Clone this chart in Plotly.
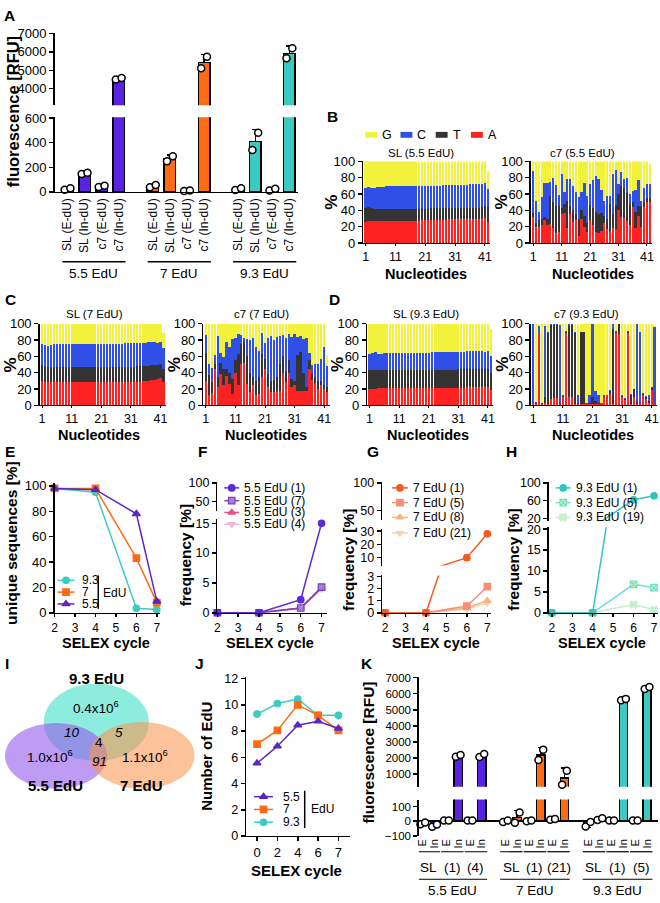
import numpy as np
import plotly.graph_objects as go

W, H = 660, 903
FONT = "Liberation Sans, Arial, Helvetica, sans-serif"
BK = "#000000"

# ======================= DATA =======================
# Panel A
A_groups = ["5.5 EdU", "7 EdU", "9.3 EdU"]
A_cats = ["SL (E-dU)", "SL (In-dU)", "c7 (E-dU)", "c7 (In-dU)"]
A_pts_55 = [[18, 30], [145, 155], [40, 50], [4500, 4580]]
A_pts_7 = [[38, 55], [250, 290], [8, 12], [5110, 5730]]
A_pts_93 = [[15, 30], [340, 480], [12, 25], [5650, 6200]]
group_colors = ["#5B22E3", "#FF6A12", "#3CCBC2"]

# Panels B-D: cumulative percentages (A, A+T, A+T+C, total) per nucleotide position
nt_pos = list(range(1, 43))

SL55_A = [26, 27, 27, 27, 27, 27, 27, 27, 27, 27,
          27, 27, 27, 27, 27, 27, 27, 27, 27, 28,
          28, 28, 28, 28, 28, 28, 28, 28, 29, 29,
          29, 29, 29, 29, 29, 29, 29, 29, 29, 30,
          31, 26]
SL55_AT = [43, 44, 43, 42, 42, 42, 42, 42, 42, 42,
           42, 42, 42, 42, 42, 42, 42, 42, 42, 42,
           42, 42, 43, 43, 43, 43, 43, 43, 43, 43,
           43, 43, 43, 43, 43, 43, 43, 43, 43, 44,
           45, 44]
SL55_ATC = [67, 69, 68, 68, 69, 69, 69, 70, 70, 70,
            70, 70, 70, 70, 70, 70, 70, 70, 70, 70,
            70, 70, 70, 70, 70, 70, 71, 71, 71, 71,
            71, 71, 71, 71, 71, 72, 72, 72, 72, 72,
            73, 66]
SL55_TOT = [100, 100, 100, 100, 100, 100, 100, 100, 100, 100,
            100, 100, 100, 100, 100, 100, 100, 100, 100, 100,
            100, 100, 100, 100, 100, 100, 100, 100, 100, 100,
            100, 100, 100, 100, 100, 100, 100, 100, 100, 100,
            100, 88]

C755_A = [32, 20, 20, 22, 28, 22, 23, 18, 12, 14,
          35, 37, 18, 36, 26, 28, 8, 29, 20, 13,
          28, 22, 14, 12, 15, 24, 17, 15, 18, 17,
          40, 32, 31, 27, 22, 44, 18, 33, 20, 44,
          50, 50]
C755_AT = [37, 25, 28, 30, 32, 30, 57, 50, 45, 45,
           43, 48, 52, 45, 40, 35, 30, 40, 33, 25,
           47, 43, 38, 35, 37, 33, 30, 48, 35, 46,
           60, 70, 68, 61, 48, 50, 38, 45, 45, 50,
           55, 55]
C755_ATC = [88, 52, 38, 56, 74, 73, 75, 80, 71, 59,
            85, 62, 78, 79, 70, 63, 56, 62, 74, 58,
            72, 77, 82, 79, 65, 52, 58, 57, 84, 90,
            72, 87, 79, 80, 60, 64, 65, 77, 52, 68,
            72, 72]
C755_TOT = [100, 100, 100, 100, 100, 100, 100, 100, 100, 100,
            100, 100, 100, 100, 100, 100, 100, 100, 100, 100,
            100, 100, 100, 100, 100, 100, 100, 100, 100, 100,
            100, 100, 100, 100, 100, 100, 100, 100, 100, 100,
            100, 97]

SL7_A = [30, 28, 29, 29, 29, 29, 29, 29, 29, 29,
         29, 29, 28, 28, 28, 28, 28, 28, 28, 28,
         28, 28, 28, 29, 29, 29, 29, 29, 29, 29,
         29, 29, 29, 29, 30, 30, 30, 31, 31, 32,
         33, 28]
SL7_AT = [49, 48, 47, 47, 47, 47, 47, 47, 47, 47,
          47, 47, 47, 47, 47, 47, 47, 47, 47, 47,
          47, 47, 47, 47, 47, 47, 47, 47, 47, 47,
          47, 47, 48, 48, 48, 48, 48, 49, 49, 49,
          50, 45]
SL7_ATC = [75, 74, 73, 74, 75, 75, 75, 75, 75, 75,
           75, 75, 75, 75, 75, 75, 75, 75, 75, 75,
           75, 75, 75, 75, 75, 75, 75, 75, 76, 76,
           76, 76, 76, 76, 76, 76, 77, 77, 77, 76,
           77, 70]
SL7_TOT = [100, 100, 100, 100, 100, 100, 100, 100, 100, 100,
           100, 100, 100, 100, 100, 100, 100, 100, 100, 100,
           100, 100, 100, 100, 100, 100, 100, 100, 100, 100,
           100, 100, 100, 100, 100, 100, 100, 100, 100, 100,
           100, 88]

C77_A = [30, 12, 15, 44, 23, 38, 25, 36, 26, 14,
         40, 25, 50, 52, 26, 16, 25, 12, 14, 35,
         45, 22, 16, 16, 17, 18, 40, 28, 40, 23,
         25, 17, 18, 18, 17, 45, 31, 27, 20, 25,
         20, 16]
C77_AT = [64, 37, 28, 50, 35, 52, 45, 45, 40, 32,
          55, 63, 75, 78, 60, 40, 35, 30, 35, 63,
          57, 38, 30, 31, 35, 50, 60, 42, 55, 32,
          30, 62, 65, 40, 23, 55, 38, 35, 30, 30,
          25, 22]
C77_ATC = [86, 51, 46, 62, 85, 64, 59, 77, 72, 81,
           82, 87, 86, 83, 81, 80, 82, 71, 67, 88,
           76, 83, 85, 80, 84, 85, 86, 82, 87, 84,
           87, 84, 85, 81, 82, 64, 49, 50, 51, 57,
           72, 48]
C77_TOT = [100, 100, 100, 100, 100, 100, 100, 100, 100, 100,
           100, 100, 100, 100, 100, 100, 100, 100, 100, 100,
           100, 100, 100, 100, 100, 100, 100, 100, 100, 100,
           100, 100, 100, 100, 100, 100, 100, 100, 100, 100,
           100, 62]

SL93_A = [20, 20, 20, 21, 21, 21, 21, 21, 21, 21,
          21, 21, 21, 21, 21, 21, 21, 21, 21, 21,
          21, 21, 21, 21, 21, 21, 21, 21, 21, 21,
          21, 21, 21, 22, 22, 22, 22, 22, 22, 22,
          22, 19]
SL93_AT = [43, 43, 43, 43, 43, 43, 43, 43, 43, 43,
           43, 43, 43, 43, 43, 43, 43, 43, 43, 43,
           43, 43, 43, 43, 43, 43, 43, 43, 43, 43,
           44, 44, 44, 44, 45, 45, 45, 45, 45, 45,
           45, 40]
SL93_ATC = [63, 64, 65, 63, 63, 64, 64, 64, 64, 64,
            64, 64, 64, 64, 64, 64, 64, 64, 64, 64,
            64, 65, 65, 65, 65, 65, 65, 65, 65, 65,
            65, 65, 65, 66, 66, 66, 66, 66, 66, 65,
            66, 60]
SL93_TOT = [100, 100, 100, 100, 100, 100, 100, 100, 100, 100,
            100, 100, 100, 100, 100, 100, 100, 100, 100, 100,
            100, 100, 100, 100, 100, 100, 100, 100, 100, 100,
            100, 100, 100, 100, 100, 100, 100, 100, 100, 100,
            100, 93]

C793_A = [1, 2, 88, 2, 3, 2, 8, 9, 9, 2,
          10, 88, 10, 10, 2, 2, 2, 2, 1, 2,
          2, 2, 1, 1, 10, 12, 14, 2, 88, 87,
          10, 7, 88, 2, 10, 2, 1, 13, 8, 3,
          19, 1]
C793_AT = [2, 3, 89, 3, 10, 88, 98, 98, 98, 3,
           11, 90, 97, 98, 88, 3, 90, 90, 2, 3,
           10, 5, 3, 2, 11, 13, 18, 93, 90, 99,
           11, 8, 90, 13, 20, 4, 2, 14, 10, 5,
           21, 2]
C793_ATC = [99, 4, 97, 3, 97, 90, 99, 99, 99, 98,
            12, 91, 99, 99, 90, 13, 90, 90, 3, 12,
            99, 18, 12, 3, 12, 13, 19, 100, 91, 99,
            12, 9, 91, 14, 20, 99, 90, 15, 11, 12,
            22, 96]
C793_TOT = [100, 100, 100, 100, 100, 100, 100, 100, 100, 100,
            100, 100, 100, 100, 100, 100, 100, 100, 100, 100,
            100, 100, 100, 100, 100, 100, 100, 100, 100, 100,
            100, 100, 100, 100, 100, 100, 100, 100, 100, 100,
            100, 97]

base_names = ["A", "T", "C", "G"]
base_colors = ["#FF2222", "#343434", "#2F4FE6", "#F2F23C"]

# Panels E-H
cycles = [2, 4, 6, 7]
uniq_93 = [98, 95, 3.5, 2.5]
uniq_7 = [98, 98, 43, 8]
uniq_55 = [98, 97, 78, 9]

f55_1 = [0, 0, 2.2, 15]
f55_7 = [0, 0, 0.8, 4.3]
f55_3 = [0, 0, 0.8, 4.1]
f55_4 = [0, 0, 0.7, 4.0]

g7_1 = [0, 0, 10, 28]
g7_5 = [0, 0, 0.55, 2.15]
g7_8 = [0, 0, 0.4, 1.0]
g7_21 = [0, 0, 0.3, 0.8]

h93_1 = [0, 0, 62, 71]
h93_5 = [0, 0, 6.8, 6.0]
h93_19 = [0, 0, 2.0, 0.7]

# Panel I (Venn)
venn_sets = ["9.3 EdU", "5.5 EdU", "7 EdU"]
venn_unique = ["0.4x10<sup>6</sup>", "1.0x10<sup>6</sup>", "1.1x10<sup>6</sup>"]
venn_93_55 = "10"
venn_93_7 = "5"
venn_55_7 = "91"
venn_all = "4"

# Panel J
J_cycles = ["0", "2", "4", "6", "7"]
j55 = [5.55, 6.85, 8.45, 8.75, 8.2]
j7 = [7.0, 8.05, 10.0, 9.2, 8.05]
j93 = [9.3, 10.1, 10.45, 9.2, 9.2]

# Panel K
K_groups = ["5.5 EdU", "7 EdU", "9.3 EdU"]
K_sub = [["SL", "(1)", "(4)"], ["SL", "(1)", "(21)"], ["SL", "(1)", "(5)"]]
K_cond = ["E", "In"]
K_pts_55 = [[-20, -8], [-38, -22], [5, 5], [2080, 2180], [5, 5], [2060, 2250]]
K_pts_7 = [[-5, 5], [-10, 60], [0, 5], [1870, 2520], [10, 15], [330, 1200]]
K_pts_93 = [[-35, -5], [8, 20], [5, 5], [5600, 5680], [5, 5], [6300, 6420]]

# ======================= HELPERS =======================
fig = go.Figure()
layout_axes = {}
cnt = {"x": 0, "y": 0}
ann = []
shp = []


def _id(kind, n):
    return kind if n == 1 else f"{kind}{n}"


def _key(kind, n):
    return f"{kind}axis" if n == 1 else f"{kind}axis{n}"


def xd(a, b):
    return [a / W, b / W]


def yd(top, bot):
    return [1 - bot / H, 1 - top / H]


def lin(v1, p1, v2, p2, pa, pb):
    k = (v2 - v1) / (p2 - p1)
    return [v1 + (pa - p1) * k, v1 + (pb - p1) * k]


def tf(size=12.5):
    return dict(family=FONT, size=size, color=BK)


BASE = dict(showline=True, linecolor=BK, linewidth=1.5, ticks="outside", ticklen=4,
            tickwidth=1.5, tickcolor=BK, showgrid=False, zeroline=False, fixedrange=True,
            tickfont=tf(), layer="above traces")


def axis(kind, dom, rng, anchor, **kw):
    cnt[kind] += 1
    n = cnt[kind]
    d = dict(BASE)
    d.update(domain=dom, range=rng, anchor=anchor)
    d.update(kw)
    layout_axes[_key(kind, n)] = d
    return _id(kind, n)


def pair(xdom, xrng, ydom, yrng, xkw=None, ykw=None):
    X_, Y_ = _id("x", cnt["x"] + 1), _id("y", cnt["y"] + 1)
    axis("x", xdom, xrng, Y_, **(xkw or {}))
    axis("y", ydom, yrng, X_, **(ykw or {}))
    return X_, Y_


CX, CY = pair([0, 1], [0, W], [0, 1], [H, 0],
              xkw=dict(visible=False), ykw=dict(visible=False))


def T(x, y, s, size=12.5, bold=False, italic=False, angle=0, xa="center", ya="middle",
      xref=None, yref=None, color=BK):
    if bold:
        s = f"<b>{s}</b>"
    if italic:
        s = f"<i>{s}</i>"
    ann.append(dict(x=x, y=y, xref=xref or CX, yref=yref or CY, text=s, showarrow=False,
                    xanchor=xa, yanchor=ya, textangle=angle,
                    font=dict(family=FONT, size=size, color=color)))


def Lseg(x0, y0, x1, y1, xref=None, yref=None, w=1.5, color=BK):
    shp.append(dict(type="line", x0=x0, y0=y0, x1=x1, y1=y1, xref=xref or CX,
                    yref=yref or CY, line=dict(color=color, width=w)))


def yrange_of(Y_):
    n = 1 if Y_ == "y" else int(Y_[1:])
    return layout_axes[_key("y", n)]["range"]


def seg_points(X_, Y_, xs, ys, marker):
    lo, hi = yrange_of(Y_)
    sel = [(a, b) for a, b in zip(xs, ys) if lo <= b <= hi]
    if sel:
        fig.add_trace(go.Scatter(x=[a for a, _ in sel], y=[b for _, b in sel], xaxis=X_,
                                 yaxis=Y_, mode="markers", marker=marker, cliponaxis=False,
                                 hoverinfo="skip", showlegend=False))


def seg_series(X_, Ys, xs, ys, color, symbol, size=6.5, lw=1.5, fill=None):
    mk = dict(symbol=symbol, size=size, color=fill or color, line=dict(color=color, width=1.2))
    for Y_ in Ys:
        fig.add_trace(go.Scatter(x=xs, y=ys, xaxis=X_, yaxis=Y_, mode="lines",
                                 line=dict(color=color, width=lw), hoverinfo="skip",
                                 showlegend=False))
        seg_points(X_, Y_, xs, ys, mk)


def leg(x0, x1, y, color, symbol, label, tx, size=6.5, tsize=12, fill=None):
    fig.add_trace(go.Scatter(x=[x0, x1], y=[y, y], xaxis=CX, yaxis=CY, mode="lines",
                             line=dict(color=color, width=1.5), hoverinfo="skip",
                             showlegend=False))
    fig.add_trace(go.Scatter(x=[(x0 + x1) / 2], y=[y], xaxis=CX, yaxis=CY, mode="markers",
                             marker=dict(symbol=symbol, size=size, color=fill or color,
                                         line=dict(color=color, width=1.2)),
                             hoverinfo="skip", showlegend=False))
    T(tx, y, label, size=tsize, xa="left")


WHITE_PT = dict(symbol="circle", size=7, color="white", line=dict(color=BK, width=1.5))
CYC_X = dict(tickvals=[2, 3, 4, 5, 6, 7], ticklen=3, tickfont=tf(12))

# ======================= PANEL A =======================
A_x = [g * 5 + i for g in range(3) for i in range(4)]
AX_, AYlo = pair(xd(52, 297), lin(0, 65, 13, 288.6, 52, 297), yd(112, 188),
                 lin(0, 188, 600, 113, 188, 112),
                 xkw=dict(tickvals=A_x, ticktext=A_cats * 3, tickangle=-90, ticks="",
                          tickfont=tf(12)),
                 ykw=dict(tickvals=[0, 200, 400, 600], tickfont=tf(13)))
AYhi = axis("y", yd(26, 100), lin(4000, 83, 7000, 27, 100, 26), AX_,
            tickvals=[4000, 5000, 6000, 7000], tickfont=tf(13))

for g, pts in enumerate([A_pts_55, A_pts_7, A_pts_93]):
    p = np.array(pts, dtype=float)
    mean = p.mean(axis=1)
    sd = p.std(axis=1, ddof=1)
    xs = [g * 5 + i for i in range(4)]
    for Y_ in (AYlo, AYhi):
        fig.add_trace(go.Bar(x=xs, y=mean, xaxis=AX_, yaxis=Y_, width=0.68,
                             marker=dict(color=group_colors[g], line=dict(color=BK, width=1.5)),
                             error_y=dict(type="data", symmetric=False, array=sd,
                                          arrayminus=np.zeros(4), color=BK, thickness=1.5,
                                          width=3),
                             hoverinfo="skip", showlegend=False))
        px_ = [x + o for x in xs for o in (-0.17, 0.17)]
        py_ = [v for row in pts for v in row]
        seg_points(AX_, Y_, px_, py_, WHITE_PT)
    Lseg(xs[0] - 0.3, 259, xs[-1] + 0.4, 259, xref=AX_)
    T((xs[0] + xs[-1]) / 2 + 0.05, 271, A_groups[g], size=13.5, xref=AX_)

T(10, 106, "fluorescence [RFU]", size=16.5, bold=True, angle=-90)

# ======================= PANELS B-D =======================


def stack_panel(x0, x1, ytop, ybot, cum, title, tx, ty, pctx, nucx, nucy):
    X_, Y_ = pair(xd(x0, x1), [0.2, 42.8], yd(ytop, ybot), [0, 100],
                  xkw=dict(tickvals=[1, 11, 21, 31, 41], ticklen=2, linewidth=1,
                           tickwidth=1, tickfont=tf(12.5)),
                  ykw=dict(tickvals=[0, 20, 40, 60, 80, 100], tickfont=tf(13)))
    arrs = [np.array(c, dtype=float) for c in cum]
    n = min(len(a) for a in arrs)
    arrs = [a[:n] for a in arrs]
    parts = [arrs[0], arrs[1] - arrs[0], arrs[2] - arrs[1], arrs[3] - arrs[2]]
    for vals, col in zip(parts, base_colors):
        fig.add_trace(go.Bar(x=nt_pos[:n], y=vals, xaxis=X_, yaxis=Y_, width=0.78,
                             marker=dict(color=col, line=dict(width=0)),
                             hoverinfo="skip", showlegend=False))
    T(tx, ty, title, size=11.5)
    T(pctx, (ytop + ybot) / 2, "%", size=17, bold=True, angle=-90)
    T(nucx, nucy, "Nucleotides", size=14.5, bold=True)


stack_panel(363, 491, 157, 240, [SL55_A, SL55_AT, SL55_ATC, SL55_TOT], "SL (5.5 EdU)",
            421, 148, 331, 426, 272)
stack_panel(532, 654, 157, 240, [C755_A, C755_AT, C755_ATC, C755_TOT], "c7 (5.5 EdU)",
            584, 148, 502, 594, 272)
stack_panel(37, 164, 322, 405, [SL7_A, SL7_AT, SL7_ATC, SL7_TOT], "SL (7 EdU)",
            92, 312, 8, 97, 435)
stack_panel(202, 329, 322, 405, [C77_A, C77_AT, C77_ATC, C77_TOT], "c7 (7 EdU)",
            260, 312, 173, 265, 435)
stack_panel(367, 494, 322, 405, [SL93_A, SL93_AT, SL93_ATC, SL93_TOT], "SL (9.3 EdU)",
            426, 312, 337, 428, 435)
stack_panel(532, 659, 322, 405, [C793_A, C793_AT, C793_ATC, C793_TOT], "c7 (9.3 EdU)",
            588, 312, 503, 595, 435)

# base legend (B)
for i, (nm, col) in enumerate(zip(["G", "C", "T", "A"],
                                  [base_colors[3], base_colors[2], base_colors[1], base_colors[0]])):
    x0 = 365 + 35.5 * i
    shp.append(dict(type="rect", x0=x0, x1=x0 + 12, y0=127, y1=133, xref=CX, yref=CY,
                    fillcolor=col, line=dict(width=0)))
    T(x0 + 15, 130, nm, size=12.5, xa="left")

# ======================= PANEL E =======================
EX, EY = pair(xd(52, 158), lin(2, 52, 7, 155, 52, 158), yd(484, 616),
              lin(0, 616, 100, 487, 616, 484),
              xkw=CYC_X,
              ykw=dict(tickvals=[0, 20, 40, 60, 80, 100], tickfont=tf(13)))
seg_series(EX, [EY], cycles, uniq_93, group_colors[2], "circle")
seg_series(EX, [EY], cycles, uniq_7, group_colors[1], "square")
seg_series(EX, [EY], cycles, uniq_55, "#5A26C8", "triangle-up", size=7)
leg(55, 72, 583, group_colors[2], "circle", "9.3", 78)
leg(55, 72, 595, group_colors[1], "square", "7", 78)
leg(55, 72, 607, "#5A26C8", "triangle-up", "5.5", 78, size=7)
Lseg(96, 578, 96, 612)
T(99, 596, "EdU", size=12, xa="left")
T(9, 545, "unique sequences [%]", size=15.5, bold=True, angle=-90)
T(104, 647, "SELEX cycle", size=14.5, bold=True)

# ======================= PANEL F =======================
FX, FYlo = pair(xd(216, 326), lin(2, 216, 7, 321, 216, 326), yd(521, 616),
                lin(0, 616, 15, 525, 616, 521),
                xkw=CYC_X,
                ykw=dict(tickvals=[0, 5, 10, 15]))
FYhi = axis("y", yd(483, 513), lin(50, 503, 100, 484, 513, 483), FX, tickvals=[50, 100])
F_series = [("5.5 EdU (1)", f55_1, "#5A2BD8", "circle", None),
            ("5.5 EdU (7)", f55_7, "#7B3FB8", "square", "#A77FD8"),
            ("5.5 EdU (3)", f55_3, "#EA4F86", "triangle-up", None),
            ("5.5 EdU (4)", f55_4, "#F2B6D6", "triangle-down", None)]
for lab, ys, col, sym, fill in reversed(F_series):
    seg_series(FX, [FYlo, FYhi], cycles, ys, col, sym, fill=fill)
for k, (lab, ys, col, sym, fill) in enumerate(F_series):
    leg(223, 238, [489, 502, 514, 526][k], col, sym, lab, 241, fill=fill)
T(184, 557, "frequency [%]", size=15.5, bold=True, angle=-90)
T(269, 647, "SELEX cycle", size=14.5, bold=True)

# ======================= PANEL G =======================
GX, GYlo = pair(xd(382, 492), lin(2, 385, 7, 488, 382, 492), yd(578, 616),
                lin(0, 616, 3, 579, 616, 578),
                xkw=CYC_X,
                ykw=dict(tickvals=[0, 1, 2, 3]))
GYmid = axis("y", yd(531, 568), lin(10, 560, 30, 533, 568, 531), GX, tickvals=[10, 20, 30])
GYhi = axis("y", yd(483, 522), lin(50, 512, 100, 484, 522, 483), GX, tickvals=[50, 100])
G_series = [("7 EdU (1)", g7_1, "#F25A22", "circle"),
            ("7 EdU (5)", g7_5, "#F58D78", "square"),
            ("7 EdU (8)", g7_8, "#F8B27E", "triangle-up"),
            ("7 EdU (21)", g7_21, "#FAD3AE", "triangle-down")]
for lab, ys, col, sym in reversed(G_series):
    seg_series(GX, [GYlo, GYmid, GYhi], cycles, ys, col, sym)
for k, (lab, ys, col, sym) in enumerate(G_series):
    leg(392, 408, [489, 504, 519, 535][k], col, sym, lab, 411)
T(348, 562, "frequency [%]", size=15.5, bold=True, angle=-90)
T(436, 647, "SELEX cycle", size=14.5, bold=True)

# ======================= PANEL H =======================
HX, HYlo = pair(xd(550, 660), lin(2, 553, 7, 656, 550, 660), yd(529, 616),
                lin(0, 616, 20, 531, 616, 529),
                xkw=CYC_X,
                ykw=dict(tickvals=[0, 5, 10, 15, 20]))
HYhi = axis("y", yd(483, 523), lin(20, 520, 100, 484, 523, 483), HX, tickvals=[20, 60, 100])
H_series = [("9.3 EdU (1)", h93_1, "#33C4BD", "circle", None),
            ("9.3 EdU (5)", h93_5, "#6FE0CF", "square-x", "#D8F7A8"),
            ("9.3 EdU (19)", h93_19, "#C4F0CB", "x", None)]
for lab, ys, col, sym, fill in reversed(H_series):
    seg_series(HX, [HYlo, HYhi], cycles, ys, col, sym, fill=fill)
for k, (lab, ys, col, sym, fill) in enumerate(H_series):
    leg(557, 572, [489, 504, 519][k], col, sym, lab, 575, fill=fill)
T(515, 562, "frequency [%]", size=15.5, bold=True, angle=-90)
T(604, 647, "SELEX cycle", size=14.5, bold=True)

# ======================= PANEL I (Venn) =======================
venn_shapes = [((41, 147, 688, 767), "rgba(70,225,200,0.62)"),
               ((2, 105, 728, 795), "rgba(150,95,235,0.62)"),
               ((87, 193, 727, 795), "rgba(250,150,80,0.58)")]
for (x0, x1, y0, y1), col in venn_shapes:
    shp.append(dict(type="circle", x0=x0, x1=x1, y0=y0, y1=y1, xref=CX, yref=CY,
                    fillcolor=col, line=dict(width=0), layer="below"))
T(94, 683, venn_sets[0], size=15, bold=True)
T(53, 792, venn_sets[1], size=15, bold=True)
T(140, 792, venn_sets[2], size=15, bold=True)
T(94, 712, venn_unique[0], size=13.5)
T(47, 762, venn_unique[1], size=13.5)
T(143, 762, venn_unique[2], size=13.5)
T(70, 738, venn_93_55, size=13.5, italic=True)
T(117, 738, venn_93_7, size=13.5, italic=True)
T(97, 748, venn_all, size=13.5)
T(97, 767, venn_55_7, size=13.5, italic=True)

# ======================= PANEL J =======================
JX, JY = pair(xd(245, 350), lin(0, 256, 4, 338, 245, 350), yd(681, 843),
              lin(0, 843, 12, 683, 843, 681),
              xkw=dict(tickvals=list(range(len(J_cycles))), ticktext=J_cycles, tickfont=tf(13)),
              ykw=dict(tickvals=[0, 2, 4, 6, 8, 10, 12], tickfont=tf(12.5)))
jx = list(range(len(J_cycles)))
seg_series(JX, [JY], jx, j93, group_colors[2], "circle")
seg_series(JX, [JY], jx, j7, group_colors[1], "square")
seg_series(JX, [JY], jx, j55, "#5A26C8", "triangle-up", size=7)
leg(253, 272, 803, "#5A26C8", "triangle-up", "5.5", 280, size=7)
leg(253, 272, 816, group_colors[1], "square", "7", 280)
leg(253, 272, 829, group_colors[2], "circle", "9.3", 280)
Lseg(304, 797, 304, 835)
T(308, 816, "EdU", size=12, xa="left")
T(205, 762, "Number of EdU", size=15, bold=True, angle=-90)
T(296, 878, "SELEX cycle", size=15, bold=True)

# ======================= PANEL K =======================
K_x = [g * 7 + j for g in range(3) for j in range(6)]
KX, KYlo = pair(xd(419, 660), lin(0, 423, 19, 649, 419, 660), yd(806, 843),
                lin(-100, 843, 100, 813, 843, 806),
                xkw=dict(showline=False, ticks="", tickvals=K_x, ticktext=K_cond * 9,
                         tickangle=-90, tickfont=tf(11)),
                ykw=dict(tickvals=[-100, 0, 100], tickfont=tf(11.5), zeroline=True,
                         zerolinecolor=BK, zerolinewidth=1.5))
KYhi = axis("y", yd(681, 793), lin(1000, 780, 7000, 682, 793, 681), KX,
            tickvals=[1000, 2000, 3000, 4000, 5000, 6000, 7000], tickfont=tf(11.5))

for g, pts in enumerate([K_pts_55, K_pts_7, K_pts_93]):
    p = np.array(pts, dtype=float)
    mean = p.mean(axis=1)
    sd = p.std(axis=1, ddof=1)
    up = np.where(mean >= 0, sd, 0)
    dn = np.where(mean < 0, sd, 0)
    xs = [g * 7 + j for j in range(6)]
    for Y_ in (KYlo, KYhi):
        fig.add_trace(go.Bar(x=xs, y=mean, xaxis=KX, yaxis=Y_, width=0.7,
                             marker=dict(color=group_colors[g], line=dict(color=BK, width=1.5)),
                             error_y=dict(type="data", symmetric=False, array=up,
                                          arrayminus=dn, color=BK, thickness=1.5, width=3),
                             hoverinfo="skip", showlegend=False))
        px_ = [x + o for x in xs for o in (-0.2, 0.2)]
        py_ = [v for row in pts for v in row]
        seg_points(KX, Y_, px_, py_, WHITE_PT)
    for s in range(3):
        xe, xi = xs[2 * s], xs[2 * s + 1]
        Lseg(xe - 0.45, 859, xi + 0.45, 859, xref=KX, w=1.2)
        T((xe + xi) / 2, 875, K_sub[g][s], size=13.5, xref=KX)
    Lseg(xs[0] - 0.45, 887, xs[-1] + 0.45, 887, xref=KX, w=1.2)
    T((xs[0] + xs[-1]) / 2, 898, K_groups[g], size=13.5, xref=KX)

T(368, 758, "fluorescence [RFU]", size=15.5, bold=True, angle=-90)

# ======================= PANEL LETTERS =======================
for lab, x, y in [("A", 7, 9), ("B", 332, 111), ("C", 8, 297), ("D", 334, 297),
                  ("E", 7, 452), ("F", 201, 452), ("G", 373, 452), ("H", 512, 452),
                  ("I", 4, 668), ("J", 198, 668), ("K", 367, 668)]:
    T(x, y, lab, size=15.5, bold=True)

fig.update_layout(width=W, height=H, margin=dict(l=0, r=0, t=0, b=0),
                  paper_bgcolor="white", plot_bgcolor="rgba(0,0,0,0)", barmode="stack",
                  showlegend=False, annotations=ann, shapes=shp,
                  font=dict(family=FONT, color=BK), **layout_axes)
fig.write_html("out.html", include_plotlyjs=True, config={"staticPlot": True},
               post_script="document.body.style.margin='0px';document.body.style.padding='0px';"
                           "document.documentElement.style.margin='0px';")
